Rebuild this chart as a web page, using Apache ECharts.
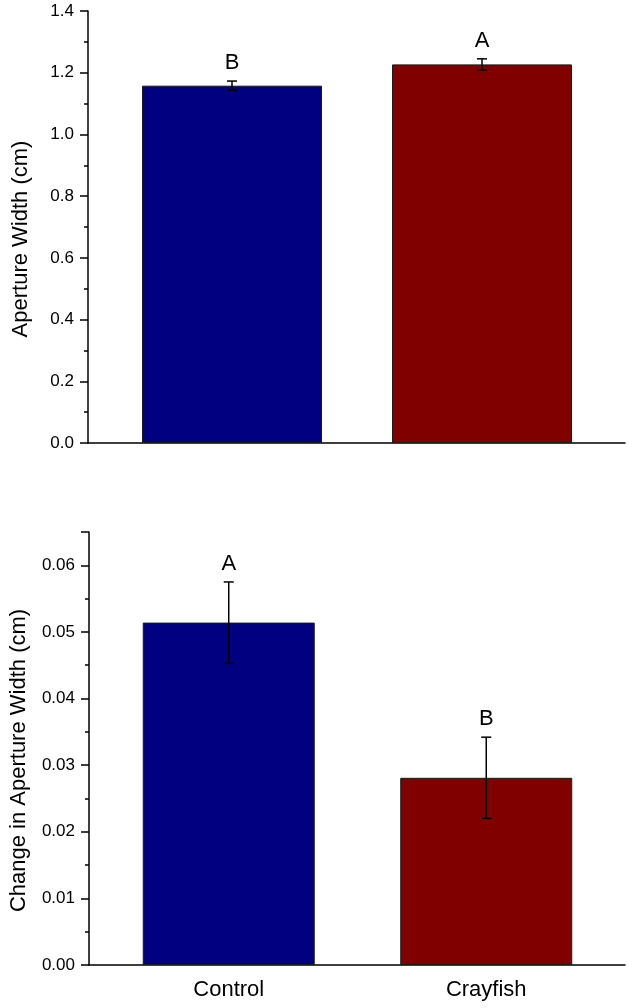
<!DOCTYPE html>
<html>
<head>
<meta charset="utf-8">
<script src="https://cdn.jsdelivr.net/npm/echarts@6/dist/echarts.min.js"></script>
<style>
    html, body { margin: 0; padding: 0; background: #fff; }
    #chart { width: 629px; height: 1008px; }
</style>
</head>
<body>
<div id="chart"></div>
<script>
    // 数据
    const categories = ['Control', 'Crayfish'];
    const apertureMean = [1.158, 1.227];
    const apertureErr = [0.015, 0.018];
    const apertureLetters = ['B', 'A'];
    const changeMean = [0.0514, 0.0281];
    const changeErr = [0.0061, 0.0061];
    const changeLetters = ['A', 'B'];
    const colors = ['#000080', '#800000'];

    const font = 'Liberation Sans, Arial, sans-serif';

    function barData(means) {
        return means.map((v, i) => ({
            value: [i + 1, v],
            itemStyle: { color: colors[i] }
        }));
    }

    function errData(means, errs, letters) {
        return means.map((v, i) => [i + 1, v, errs[i], letters[i]]);
    }

    // 误差线 + 字母标注
    function renderErr(params, api) {
        const x = api.value(0), m = api.value(1), e = api.value(2);
        const hi = api.coord([x, m + e]);
        const lo = api.coord([x, m - e]);
        const cap = 5;
        const style = { stroke: '#000', lineWidth: 1.5 };
        return {
            type: 'group',
            children: [
                { type: 'line', shape: { x1: hi[0], y1: hi[1], x2: lo[0], y2: lo[1] }, style: style },
                { type: 'line', shape: { x1: hi[0] - cap, y1: hi[1], x2: hi[0] + cap, y2: hi[1] }, style: style },
                { type: 'line', shape: { x1: lo[0] - cap, y1: lo[1], x2: lo[0] + cap, y2: lo[1] }, style: style },
                {
                    type: 'text',
                    style: {
                        text: api.value(3), x: hi[0], y: hi[1] - 7,
                        align: 'center', verticalAlign: 'bottom',
                        font: '22px ' + font, fill: '#000'
                    }
                }
            ]
        };
    }

    function yAxis(gridIndex, max, interval, digits, name, nameGap) {
        return {
            type: 'value',
            gridIndex: gridIndex,
            min: 0,
            max: max,
            interval: interval,
            name: name,
            nameLocation: 'middle',
            nameGap: nameGap,
            nameTextStyle: { fontFamily: font, fontSize: 22, color: '#000', padding: [0, 24, 0, 0] },
            axisLine: { show: true, lineStyle: { color: '#000', width: 1.5 } },
            axisTick: { show: true, length: 8, lineStyle: { color: '#000', width: 1.5 } },
            minorTick: { show: true, splitNumber: 2, length: 4, lineStyle: { color: '#000', width: 1.5 } },
            splitLine: { show: false },
            axisLabel: {
                fontFamily: font, fontSize: 17, color: '#000', margin: 14,
                showMaxLabel: max === 1.4,
                formatter: v => v.toFixed(digits)
            }
        };
    }

    function xAxis(gridIndex, min, max, showLabel) {
        return {
            type: 'value',
            gridIndex: gridIndex,
            min: min,
            max: max,
            axisLine: { show: true, onZero: false, lineStyle: { color: '#000', width: 1.5 } },
            axisTick: { show: false },
            splitLine: { show: false },
            axisLabel: {
                show: showLabel,
                customValues: [1, 2],
                fontFamily: font, fontSize: 22, color: '#000', margin: 14,
                formatter: v => categories[Math.round(v) - 1] || ''
            }
        };
    }

    const option = {
        animation: false,
        grid: [
            { left: 88, right: 4, top: 11, height: 432 },
            { left: 88, right: 4, top: 532, height: 433 }
        ],
        xAxis: [
            xAxis(0, 0.424, 2.572, false),
            xAxis(1, 0.4574, 2.5388, true)
        ],
        yAxis: [
            yAxis(0, 1.4, 0.2, 1, 'Aperture Width (cm)', 56),
            yAxis(1, 0.065, 0.01, 2, 'Change in Aperture Width (cm)', 59)
        ],
        series: [
            {
                type: 'bar', xAxisIndex: 0, yAxisIndex: 0, barWidth: 180,
                itemStyle: { borderColor: '#1a1a1a', borderWidth: 1 },
                data: barData(apertureMean)
            },
            {
                type: 'custom', xAxisIndex: 0, yAxisIndex: 0,
                renderItem: renderErr, z: 5,
                data: errData(apertureMean, apertureErr, apertureLetters)
            },
            {
                type: 'bar', xAxisIndex: 1, yAxisIndex: 1, barWidth: 172,
                itemStyle: { borderColor: '#1a1a1a', borderWidth: 1 },
                data: barData(changeMean)
            },
            {
                type: 'custom', xAxisIndex: 1, yAxisIndex: 1,
                renderItem: renderErr, z: 5,
                data: errData(changeMean, changeErr, changeLetters)
            }
        ]
    };

    const myChart = echarts.init(document.getElementById('chart'));
    myChart.setOption(option);
</script>
</body>
</html>
